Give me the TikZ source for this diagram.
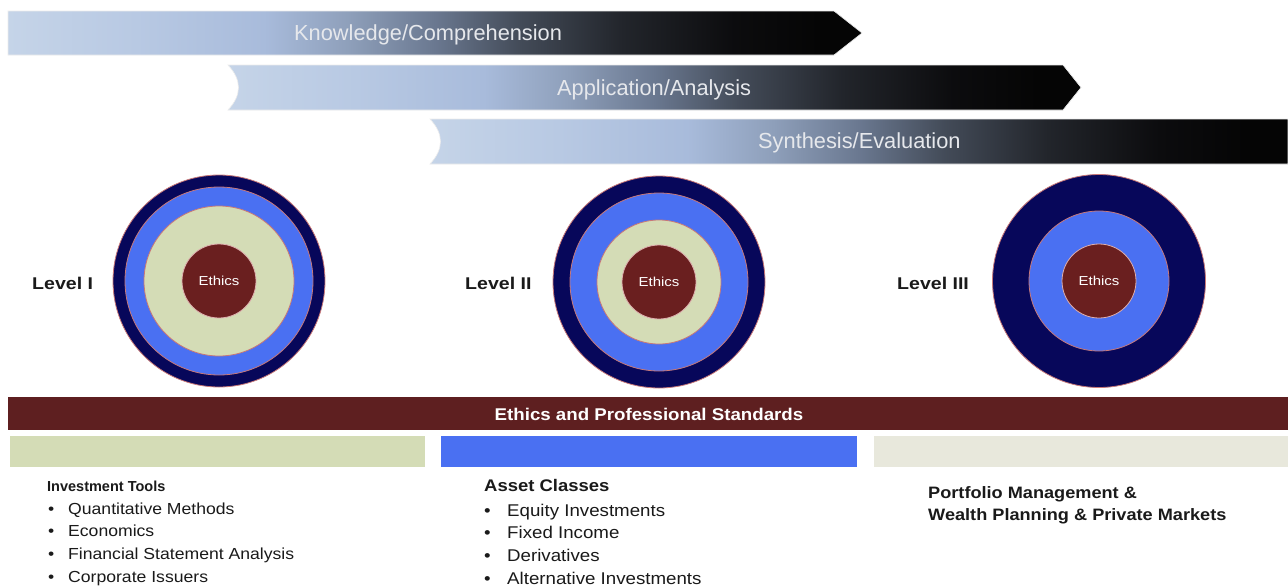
\documentclass[tikz,border=0pt]{standalone}
\usepackage{fontspec}
\setmainfont{Liberation Sans}
\newfontfamily\widef[FakeStretch=1.15]{Liberation Sans}
\newfontfamily\midf[FakeStretch=1.1]{Liberation Sans}
\definecolor{navyc}{HTML}{07075A}
\definecolor{bluec}{HTML}{4A70F2}
\definecolor{beigec}{HTML}{D4DCB6}
\definecolor{brownc}{HTML}{6A1F1F}
\definecolor{maroonc}{HTML}{5E1F20}
\definecolor{grayc}{HTML}{E8E8DC}
\definecolor{ringline}{HTML}{C87878}
\definecolor{b0}{HTML}{C5D4E8}
\definecolor{b1}{HTML}{B8C9E3}
\definecolor{b2}{HTML}{A8BBDB}
\definecolor{b3}{HTML}{8E9FBA}
\definecolor{b4}{HTML}{6A7890}
\definecolor{b5}{HTML}{434B58}
\definecolor{b6}{HTML}{22252B}
\definecolor{b7}{HTML}{0C0C0E}
\definecolor{b8}{HTML}{050505}
\definecolor{txtc}{HTML}{1A1A1A}
\definecolor{btxt}{HTML}{E6E8EC}
\pgfdeclarehorizontalshading{bannershade}{100bp}{color(0bp)=(b0); color(25bp)=(b0); color(32.5bp)=(b1); color(40bp)=(b2); color(45bp)=(b3); color(50bp)=(b4); color(55bp)=(b5); color(61bp)=(b6); color(67.5bp)=(b7); color(72.5bp)=(b8); color(100bp)=(b8)}
\tikzset{
  banner/.style={shading=bannershade, draw=white!85!gray, line width=0.6pt},
  bantext/.style={anchor=base west, inner sep=0, text=btxt, font=\fontsize{21.8}{24}\selectfont},
  ring/.style={circle, inner sep=0, draw=ringline, line width=0.8pt},
  ethicsc/.style={circle, inner sep=0, fill=brownc, draw=ringline!60!white, line width=0.8pt, text=white, font=\widef\fontsize{13}{15}\selectfont},
  levellab/.style={anchor=base west, inner sep=0, text=txtc, font=\widef\bfseries\fontsize{17}{20}\selectfont},
  head/.style={anchor=base west, inner sep=0, text=txtc, font=\bfseries\fontsize{14.5}{17}\selectfont},
  item/.style={anchor=base west, inner sep=0, text=txtc, font=\midf\fontsize{16}{19}\selectfont},
  headb/.style={anchor=base west, inner sep=0, text=txtc, font=\midf\bfseries\fontsize{16.8}{19}\selectfont},
  itemb/.style={anchor=base west, inner sep=0, text=txtc, font=\midf\fontsize{17}{19}\selectfont},
}
\begin{document}
\begin{tikzpicture}[x=1pt,y=-1pt]
\useasboundingbox (0,0) rectangle (1288,587);
\fill[white] (0,0) rectangle (1288,587);
% banners
\path[banner] (8,11) -- (834,11) -- (862,33) -- (834,55) -- (8,55) -- cycle;
\node[bantext] (kc) at (294,40) {Knowledge/Comprehension};
\path[banner] (228,65) -- (1063,65) -- (1081,87.5) -- (1063,110) -- (228,110) .. controls (242,95) and (242,80) .. (228,65) -- cycle;
\node[bantext] (aa) at (557,95.5) {Application/Analysis};
\path[banner] (430,119) -- (1288,119) -- (1288,164) -- (430,164) .. controls (444,149) and (444,134) .. (430,119) -- cycle;
\node[bantext] (se) at (758,148.5) {Synthesis/Evaluation};
% Level I
\node[ring, fill=navyc, minimum size=212] (l1a) at (219,281) {};
\node[ring, fill=bluec, minimum size=188] (l1b) at (219,281) {};
\node[ring, fill=beigec, minimum size=150] (l1c) at (219,281) {};
\node[ethicsc, minimum size=74] (l1d) at (219,281) {Ethics};
\node[levellab] (lv1) at (32,289) {Level I};
% Level II
\node[ring, fill=navyc, minimum size=212] (l2a) at (659,282) {};
\node[ring, fill=bluec, minimum size=178] (l2b) at (659,282) {};
\node[ring, fill=beigec, minimum size=124] (l2c) at (659,282) {};
\node[ethicsc, minimum size=74] (l2d) at (659,282) {Ethics};
\node[levellab] (lv2) at (465,289) {Level II};
% Level III
\node[ring, fill=navyc, minimum size=213] (l3a) at (1099,281) {};
\node[ring, fill=bluec, minimum size=140] (l3b) at (1099,281) {};
\node[ethicsc, minimum size=74] (l3d) at (1099,281) {Ethics};
\node[levellab] (lv3) at (897,289) {Level III};
% bars
\fill[maroonc] (8,397) rectangle (1288,430);
\node[text=white, inner sep=0, font=\midf\bfseries\fontsize{17}{19}\selectfont] (eps) at (649,414) {Ethics and Professional Standards};
\fill[beigec] (10,436) rectangle (425,467);
\fill[bluec] (441,436) rectangle (857,467);
\fill[grayc] (874,436) rectangle (1288,467);
% column 1
\node[head] (it) at (47,491) {Investment Tools};
\foreach \t [count=\i] in {Quantitative Methods, Economics, Financial Statement Analysis, Corporate Issuers}{
  \node[item] (itb\i) at (48,{514+22.7*(\i-1)}) {•};
  \node[item] (iti\i) at (68,{514+22.7*(\i-1)}) {\t};
}
% column 2
\node[headb] (ac) at (484,491) {Asset Classes};
\foreach \t [count=\i] in {Equity Investments, Fixed Income, Derivatives, Alternative Investments}{
  \node[itemb] (acb\i) at (484,{516+22.8*(\i-1)}) {•};
  \node[itemb] (aci\i) at (507,{516+22.8*(\i-1)}) {\t};
}
% column 3
\node[headb, font=\midf\bfseries\fontsize{16.5}{19}\selectfont] (pm1) at (928,498) {Portfolio Management \&};
\node[headb, font=\midf\bfseries\fontsize{16.5}{19}\selectfont] (pm2) at (928,520) {Wealth Planning \& Private Markets};
\end{tikzpicture}
\end{document}
